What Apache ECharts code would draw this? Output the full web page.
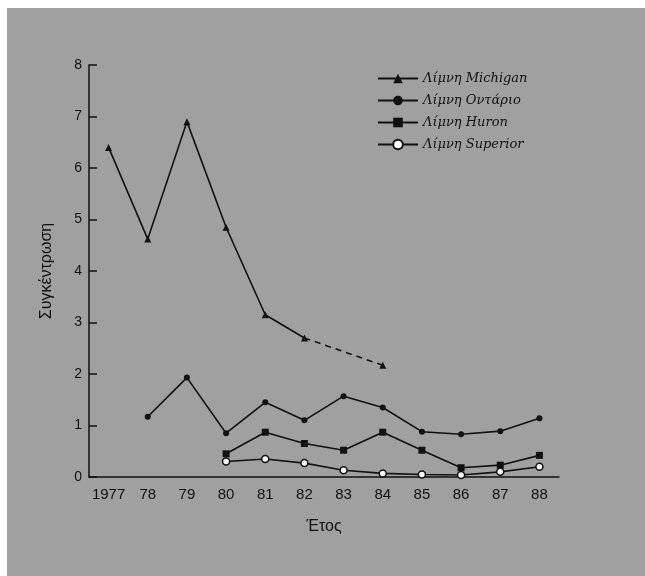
<!DOCTYPE html>
<html>
<head>
<meta charset="utf-8">
<script src="https://cdn.jsdelivr.net/npm/echarts@6/dist/echarts.min.js"></script>
<style>
  html, body { margin: 0; padding: 0; background: #fff; }
  #chart { width: 645px; height: 576px; }
</style>
</head>
<body>
<div id="chart"></div>
<script>
const years = ['1977', '78', '79', '80', '81', '82', '83', '84', '85', '86', '87', '88'];
const yTicks = [0, 1, 2, 3, 4, 5, 6, 7, 8];

// Λίμνη Michigan: no value at 83, dashed bridge from 82 to 84
const michigan = [6.4, 4.62, 6.9, 4.85, 3.15, 2.7, null, 2.17, null, null, null, null];
const michiganGap = [null, null, null, null, null, 2.7, null, 2.17, null, null, null, null];
const ontario = [null, 1.17, 1.93, 0.85, 1.45, 1.1, 1.57, 1.35, 0.88, 0.83, 0.89, 1.14];
const huron = [null, null, null, 0.45, 0.87, 0.65, 0.52, 0.87, 0.52, 0.18, 0.23, 0.42];
const superior = [null, null, null, 0.3, 0.35, 0.27, 0.13, 0.07, 0.05, 0.04, 0.1, 0.2];

const names = ['Λίμνη Michigan', 'Λίμνη Οντάριο', 'Λίμνη Huron', 'Λίμνη Superior'];

function setChart() {
  const chartDom = document.getElementById('chart');
  const myChart = echarts.init(chartDom);
  const ink = '#111';
  const font = 'Liberation Sans';

  const option = {
    backgroundColor: '#fff',
    animation: false,
    graphic: [{
      type: 'rect',
      z: -10,
      silent: true,
      shape: { x: 7, y: 8, width: 645, height: 576 },
      style: { fill: '#a0a0a0' }
    }],
    legend: {
      orient: 'vertical',
      left: 372,
      top: 67,
      itemWidth: 40,
      itemHeight: 12,
      itemGap: 9,
      data: names,
      textStyle: { color: ink, fontFamily: 'DejaVu Serif', fontStyle: 'italic', fontSize: 13 }
    },
    grid: { left: 89, top: 65, width: 470, height: 412 },
    xAxis: {
      type: 'category',
      data: years,
      boundaryGap: true,
      name: 'Έτος',
      nameLocation: 'middle',
      nameGap: 42,
      nameTextStyle: { color: ink, fontFamily: font, fontSize: 16 },
      axisLine: { lineStyle: { color: ink, width: 1.5 } },
      axisTick: { inside: true, alignWithLabel: true, interval: 0, length: 9, lineStyle: { color: ink, width: 1.5 } },
      axisLabel: { color: ink, fontFamily: font, fontSize: 15, margin: 10, interval: 0 }
    },
    yAxis: {
      type: 'value',
      min: 0,
      max: 8,
      interval: 1,
      name: 'Συγκέντρωση',
      nameLocation: 'middle',
      nameGap: 34,
      nameRotate: 90,
      nameTextStyle: { color: ink, fontFamily: font, fontSize: 16 },
      axisLine: { show: true, lineStyle: { color: ink, width: 1.5 } },
      axisTick: { show: true, inside: true, length: 8, lineStyle: { color: ink, width: 1.5 } },
      axisLabel: {
        color: ink, fontFamily: font, fontSize: 14, margin: 7,
        formatter: v => (yTicks.includes(v) ? String(v) : '')
      },
      splitLine: { show: false }
    },
    series: [
      {
        name: names[0],
        type: 'line',
        data: michigan,
        symbol: 'triangle',
        symbolSize: 7,
        itemStyle: { color: ink },
        lineStyle: { color: ink, width: 1.6 }
      },
      {
        type: 'line',
        data: michiganGap,
        connectNulls: true,
        symbol: 'none',
        lineStyle: { color: ink, width: 1.6, type: [6, 5] }
      },
      {
        name: names[1],
        type: 'line',
        data: ontario,
        symbol: 'circle',
        symbolSize: 6,
        itemStyle: { color: ink },
        lineStyle: { color: ink, width: 1.6 }
      },
      {
        name: names[2],
        type: 'line',
        data: huron,
        symbol: 'rect',
        symbolSize: 7,
        itemStyle: { color: ink },
        lineStyle: { color: ink, width: 1.6 }
      },
      {
        name: names[3],
        type: 'line',
        data: superior,
        symbol: 'circle',
        symbolSize: 7,
        itemStyle: { color: '#fff', borderColor: ink, borderWidth: 1.5 },
        lineStyle: { color: ink, width: 1.6 }
      }
    ]
  };

  myChart.setOption(option);
}

setChart();
</script>
</body>
</html>
